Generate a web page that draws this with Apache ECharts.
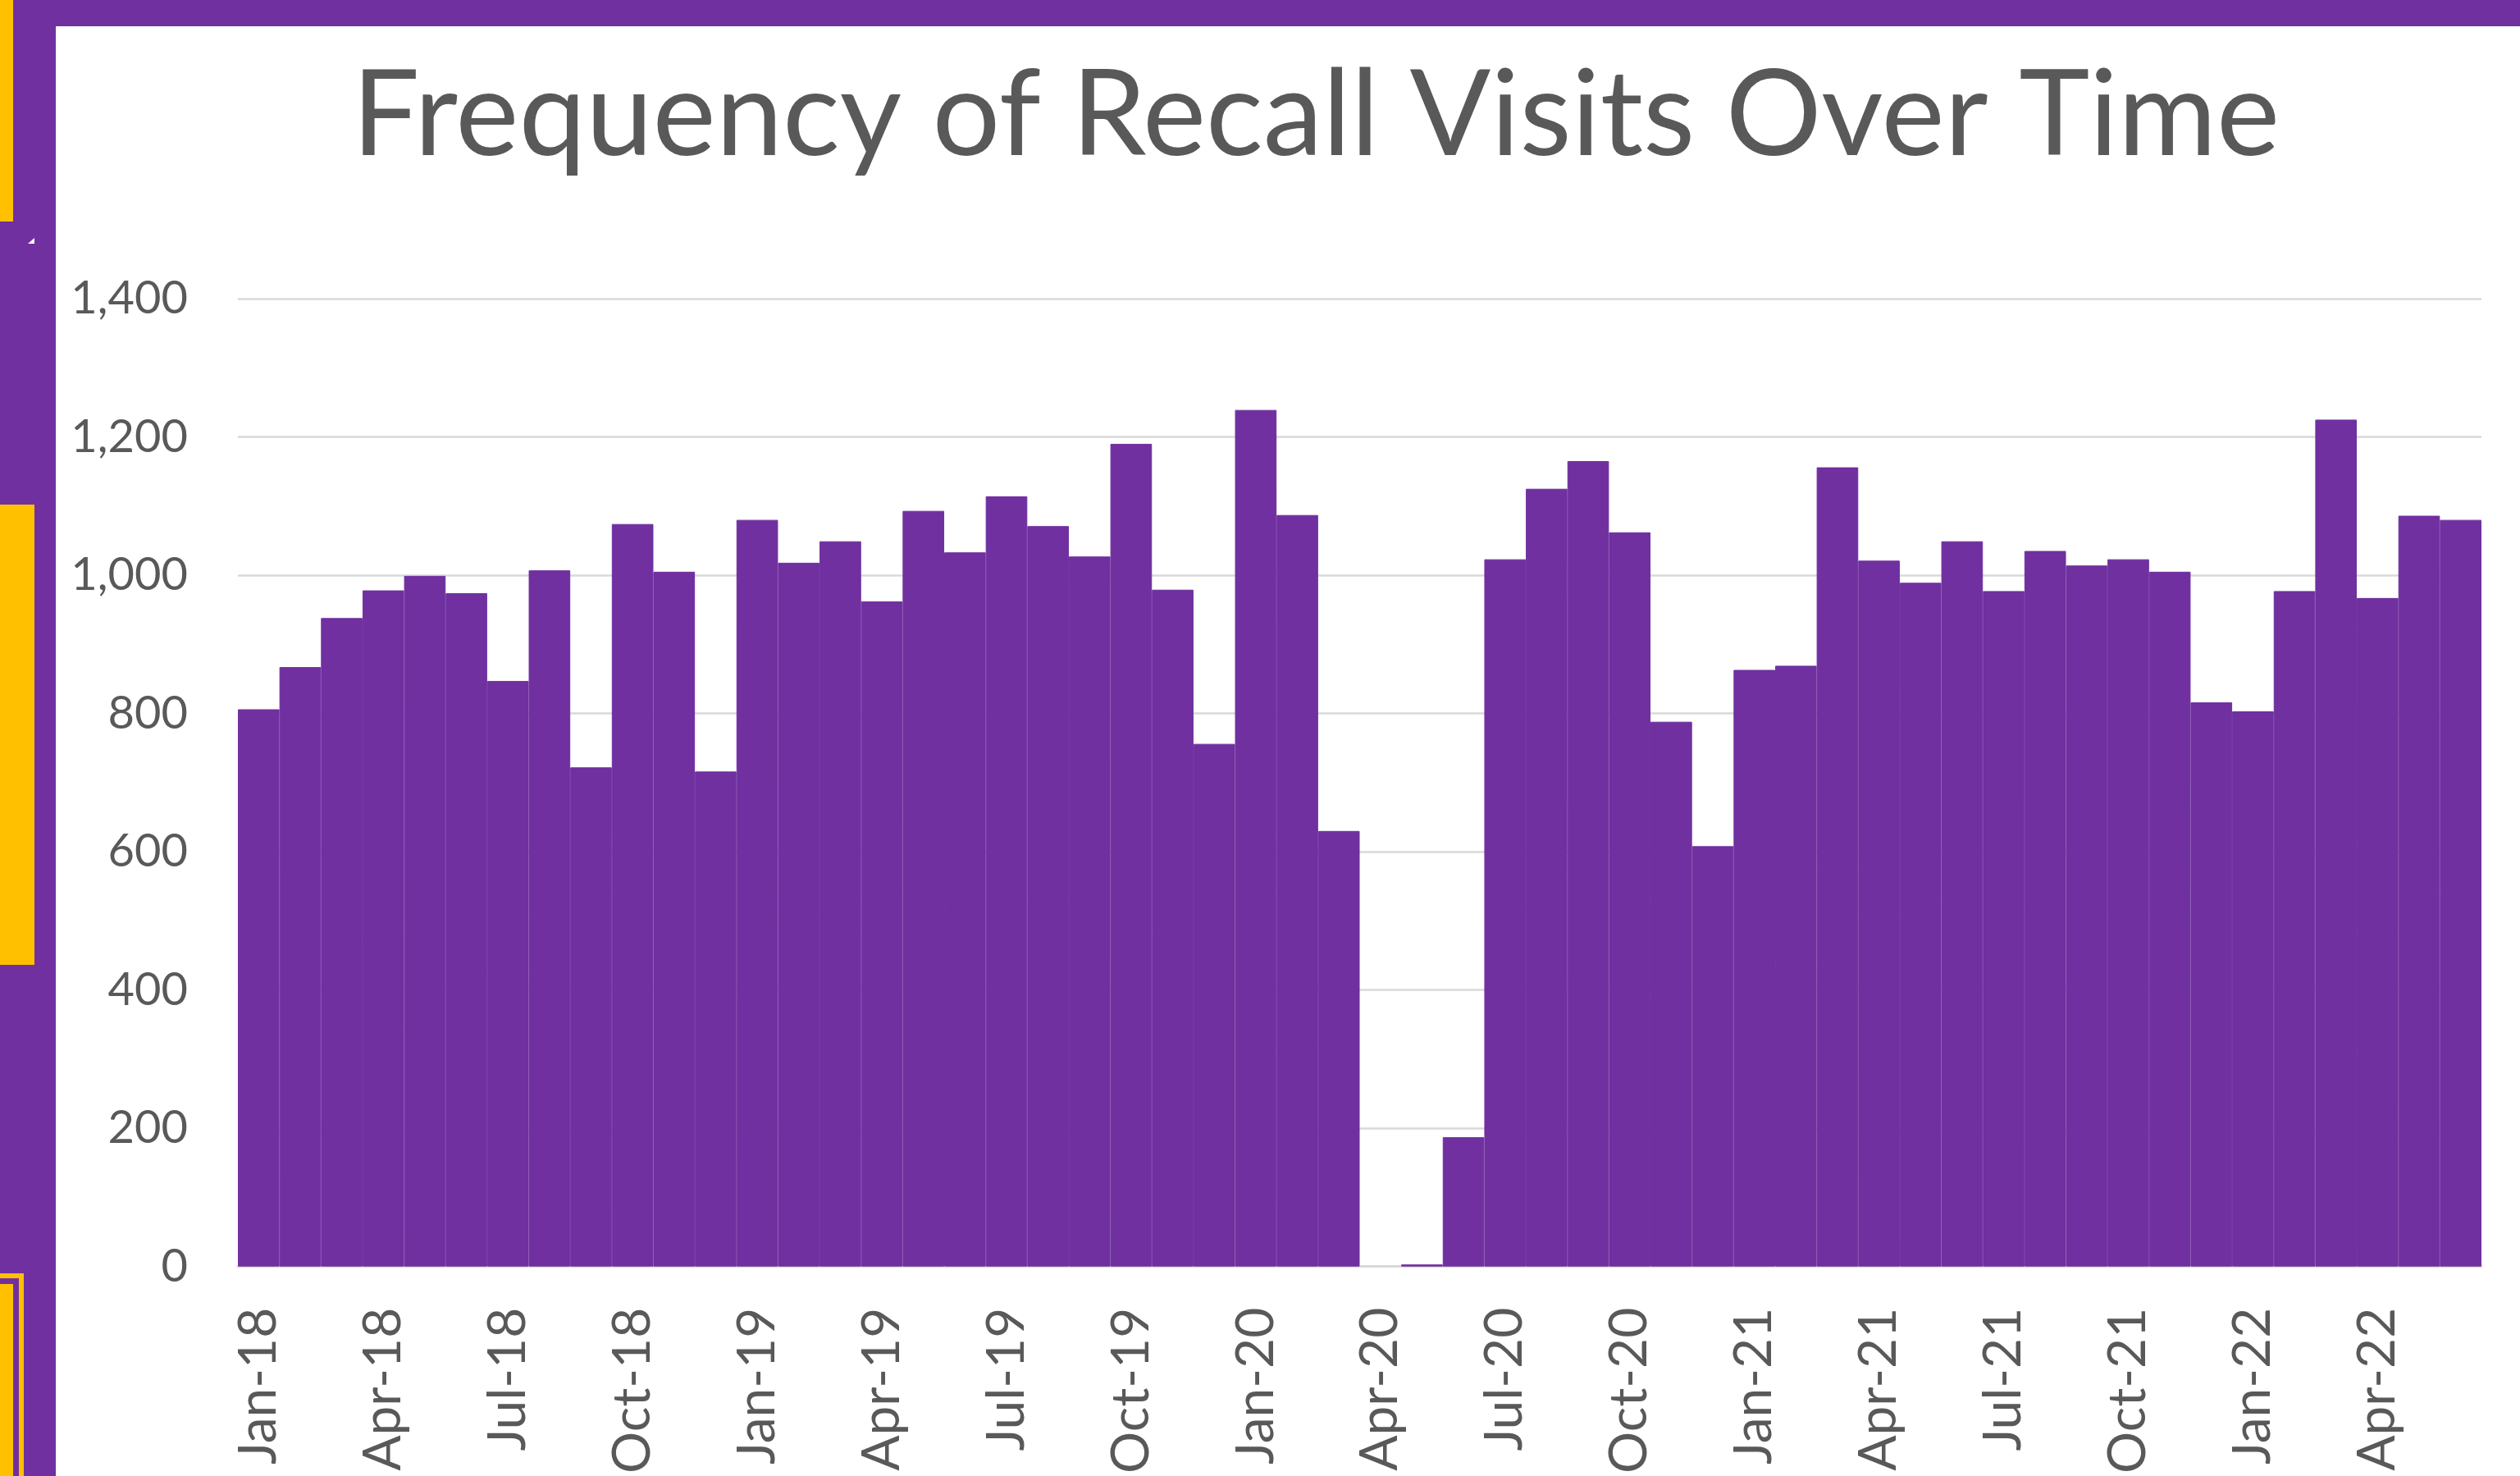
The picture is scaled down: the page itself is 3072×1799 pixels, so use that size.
<!DOCTYPE html>
<html>
<head>
<meta charset="utf-8">
<script src="https://cdn.jsdelivr.net/npm/echarts@6/dist/echarts.min.js"></script>
<style>
  html, body { margin: 0; padding: 0; background: #fff; }
  #chart { width: 3072px; height: 1799px; }
</style>
</head>
<body>
<div id="chart"></div>
<script>
// Monthly recall visits, Jan-18 .. Jun-22
const months = [
  'Jan-18','Feb-18','Mar-18','Apr-18','May-18','Jun-18','Jul-18','Aug-18','Sep-18','Oct-18','Nov-18','Dec-18',
  'Jan-19','Feb-19','Mar-19','Apr-19','May-19','Jun-19','Jul-19','Aug-19','Sep-19','Oct-19','Nov-19','Dec-19',
  'Jan-20','Feb-20','Mar-20','Apr-20','May-20','Jun-20','Jul-20','Aug-20','Sep-20','Oct-20','Nov-20','Dec-20',
  'Jan-21','Feb-21','Mar-21','Apr-21','May-21','Jun-21','Jul-21','Aug-21','Sep-21','Oct-21','Nov-21','Dec-21',
  'Jan-22','Feb-22','Mar-22','Apr-22','May-22','Jun-22'
];
const visits = [
  806, 867, 938, 978, 999, 974, 847, 1007, 722, 1074, 1005, 716,
  1080, 1018, 1049, 962, 1093, 1033, 1114, 1071, 1027, 1190, 979, 756,
  1239, 1087, 630, 0, 3, 187, 1023, 1125, 1165, 1062, 788, 608,
  863, 869, 1156, 1021, 989, 1049, 977, 1035, 1014, 1023, 1005, 816,
  803, 977, 1225, 967, 1086, 1080
];
const yTicks = [0, 200, 400, 600, 800, 1000, 1200, 1400];

const purple = '#7030A0';
const gold = '#FFC000';
const grey = '#595959';

const chart = echarts.init(document.getElementById('chart'));

// same-colour border hides the seams between touching bars; none on empty months
const barData = visits.map(v => v === 0 ? { value: v, itemStyle: { borderWidth: 0 } } : v);

chart.setOption({
  backgroundColor: '#fff',
  animation: false,
  grid: { left: 290, right: 47, top: 364, bottom: 249, containLabel: false },
  xAxis: {
    type: 'category',
    data: months,
    axisLine: { lineStyle: { color: '#d9d9d9', width: 3 } },
    axisTick: { show: false },
    axisLabel: {
      rotate: 90,
      interval: 2,
      margin: 50,
      color: grey,
      fontFamily: 'Lato',
      fontSize: 64
    }
  },
  yAxis: {
    type: 'value',
    min: yTicks[0],
    max: yTicks[yTicks.length - 1],
    interval: 200,
    axisLine: { show: false },
    axisTick: { show: false },
    splitLine: { lineStyle: { color: '#d9d9d9', width: 2.5 } },
    axisLabel: {
      margin: 61,
      color: grey,
      fontFamily: 'Lato',
      fontSize: 56,
      formatter: v => v.toLocaleString('en-US')
    }
  },
  series: [{
    type: 'bar',
    data: barData,
    barCategoryGap: '0%',
    itemStyle: { color: purple, borderColor: purple, borderWidth: 1 }
  }],
  graphic: [
    // slide decoration on the left and top
    { type: 'rect', shape: { x: 0, y: 0, width: 68, height: 1799 }, style: { fill: purple } },
    { type: 'rect', shape: { x: 0, y: 0, width: 3072, height: 32 }, style: { fill: purple } },
    { type: 'rect', shape: { x: 0, y: 0, width: 16, height: 270 }, style: { fill: gold } },
    { type: 'rect', shape: { x: 0, y: 615, width: 42, height: 561 }, style: { fill: gold } },
    { type: 'rect', shape: { x: 0, y: 1552, width: 29, height: 247 }, style: { fill: gold } },
    { type: 'rect', shape: { x: 0, y: 1558, width: 23, height: 241 }, style: { fill: purple } },
    { type: 'rect', shape: { x: 0, y: 1565, width: 16, height: 234 }, style: { fill: gold } },
    { type: 'polygon', shape: { points: [[42, 290], [42, 297], [34, 297]] }, style: { fill: '#fff' } },
    {
      type: 'text',
      x: 1604,
      y: 142,
      style: {
        text: 'Frequency of Recall Visits Over Time',
        fill: grey,
        font: '146px Lato',
        textAlign: 'center',
        textVerticalAlign: 'middle'
      }
    }
  ]
});
</script>
</body>
</html>
